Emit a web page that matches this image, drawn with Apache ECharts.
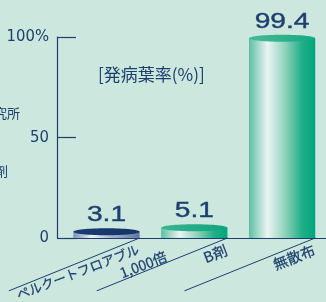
<!DOCTYPE html>
<html>
<head>
<meta charset="utf-8">
<script src="https://cdn.jsdelivr.net/npm/echarts@6/dist/echarts.min.js"></script>
<style>
html,body{margin:0;padding:0;background:#cce7dd;}
#c{width:326px;height:302px;}
</style>
</head>
<body>
<div id="c"></div>
<script>
const categories = ['ペルクートフロアブル\n1,000倍', 'B剤', '無散布'];
const values = [3.1, 5.1, 99.4];
const yTicks = [0, 50, 100];
const yTickLabels = ['0', '50', '100%'];
const titleText = '[発病葉率(%)]';

const navy = '#1d3f6e';
const palettes = [
  { body: [{offset:0,color:'#8090b6'},{offset:0.28,color:'#eceef5'},{offset:0.6,color:'#a2aecb'},{offset:1,color:'#62769f'}],
    cap: [{offset:0,color:'#1a3c70'},{offset:1,color:'#143566'}] },
  { body: [{offset:0,color:'#5cbfa2'},{offset:0.28,color:'#eaf5f3'},{offset:0.55,color:'#8fd1bb'},{offset:0.8,color:'#1faf88'},{offset:1,color:'#00a67c'}],
    cap: [{offset:0,color:'#3ab592'},{offset:1,color:'#0ea47d'}] },
  { body: [{offset:0,color:'#5cbfa2'},{offset:0.28,color:'#eaf5f3'},{offset:0.55,color:'#8fd1bb'},{offset:0.8,color:'#1faf88'},{offset:1,color:'#00a67c'}],
    cap: [{offset:0,color:'#48bb98'},{offset:1,color:'#14a981'}] }
];
const barFrac = 0.755;

function renderBar(params, api) {
  const i = api.value(0), v = api.value(1);
  const top = api.coord([i, v]);
  const base = api.coord([i, 0]);
  const bw = api.size([1, 0])[0] * barFrac;
  const p = palettes[params.dataIndex];
  return {
    type: 'group',
    children: [
      { type: 'rect', shape: { x: top[0] - bw / 2, y: top[1], width: bw, height: base[1] - top[1] },
        style: { fill: new echarts.graphic.LinearGradient(0, 0, 1, 0, p.body) } },
      { type: 'ellipse', shape: { cx: top[0], cy: top[1], rx: bw / 2, ry: 3.5 },
        style: { fill: new echarts.graphic.LinearGradient(0, 0, 1, 0, p.cap) } },
      { type: 'text', x: top[0], y: top[1] - 16.5, scaleX: 1.28,
        style: { text: String(v), font: '22px "Liberation Sans", Arial, sans-serif', fill: navy,
                 stroke: navy, lineWidth: 0.4, align: 'center', verticalAlign: 'middle' } }
    ]
  };
}

function renderLabel(params, api) {
  const i = api.value(0);
  const base = api.coord([i, 0]);
  const bw = api.size([1, 0])[0] * barFrac;
  const cx = base[0] + bw / 2, cy = base[1];
  const a = 22 * Math.PI / 180;
  const dx = Math.cos(a), dy = Math.sin(a);
  const L = 141;
  const children = [
    { type: 'line', shape: { x1: cx, y1: cy, x2: cx - L * dx, y2: cy + L * dy },
      style: { stroke: navy, lineWidth: 1 } }
  ];
  const lines = categories[i].split('\n');
  const fs = lines.length > 1 ? 13 : 14.5;
  lines.forEach(function (t, k) {
    const s = 5 - k * 23, pp = 3 + k * 16.5;
    children.push({
      type: 'text',
      x: cx - s * dx + pp * dy,
      y: cy + s * dy + pp * dx,
      rotation: 21 * Math.PI / 180,
      style: { text: t, font: (k > 0 ? fs + 1 : fs) + 'px "Noto Sans CJK JP", sans-serif', fill: navy,
               stroke: navy, lineWidth: 0.25, align: 'right', verticalAlign: 'top' }
    });
  });
  return { type: 'group', children: children };
}

const chart = echarts.init(document.getElementById('c'), null, { renderer: 'canvas' });
chart.setOption({
  backgroundColor: '#cce7dd',
  animation: false,
  title: {
    text: titleText, left: 93, top: 61,
    textStyle: { color: navy, fontSize: 17, fontWeight: 'normal', fontFamily: '"Noto Sans CJK JP", sans-serif' }
  },
  graphic: [
    { type: 'text', right: 306, top: 107, style: { text: '研究所', font: '13px "Noto Sans CJK JP", sans-serif', fill: navy } },
    { type: 'text', right: 318, top: 165, style: { text: '剤', font: '13px "Noto Sans CJK JP", sans-serif', fill: navy } }
  ],
  grid: { left: 62.6, right: -2.9, top: 37, bottom: 64, containLabel: false },
  xAxis: {
    type: 'category', data: categories,
    axisLine: { show: true, lineStyle: { color: navy, width: 1.2 } },
    axisTick: { show: false }, axisLabel: { show: false }, splitLine: { show: false }
  },
  yAxis: {
    type: 'value', min: 0, max: 100, interval: 50, offset: 5.6,
    axisLine: { show: true, lineStyle: { color: navy, width: 1.2 } },
    axisTick: { show: true, inside: true, length: 19, lineStyle: { color: navy, width: 1.2 } },
    axisLabel: {
      margin: 8, color: navy, fontSize: 16.5, fontFamily: '"DejaVu Sans Condensed", "Liberation Sans", sans-serif',
      formatter: function (v) { const k = yTicks.indexOf(v); return k >= 0 ? yTickLabels[k] : ''; }
    },
    splitLine: { show: false }
  },
  series: [
    { type: 'custom', renderItem: renderBar, clip: false,
      data: values.map(function (v, i) { return [i, v]; }), encode: { x: 0, y: 1 } },
    { type: 'custom', renderItem: renderLabel, clip: false,
      data: categories.map(function (c, i) { return [i, 0]; }), encode: { x: 0, y: 1 } }
  ]
});
</script>
</body>
</html>
